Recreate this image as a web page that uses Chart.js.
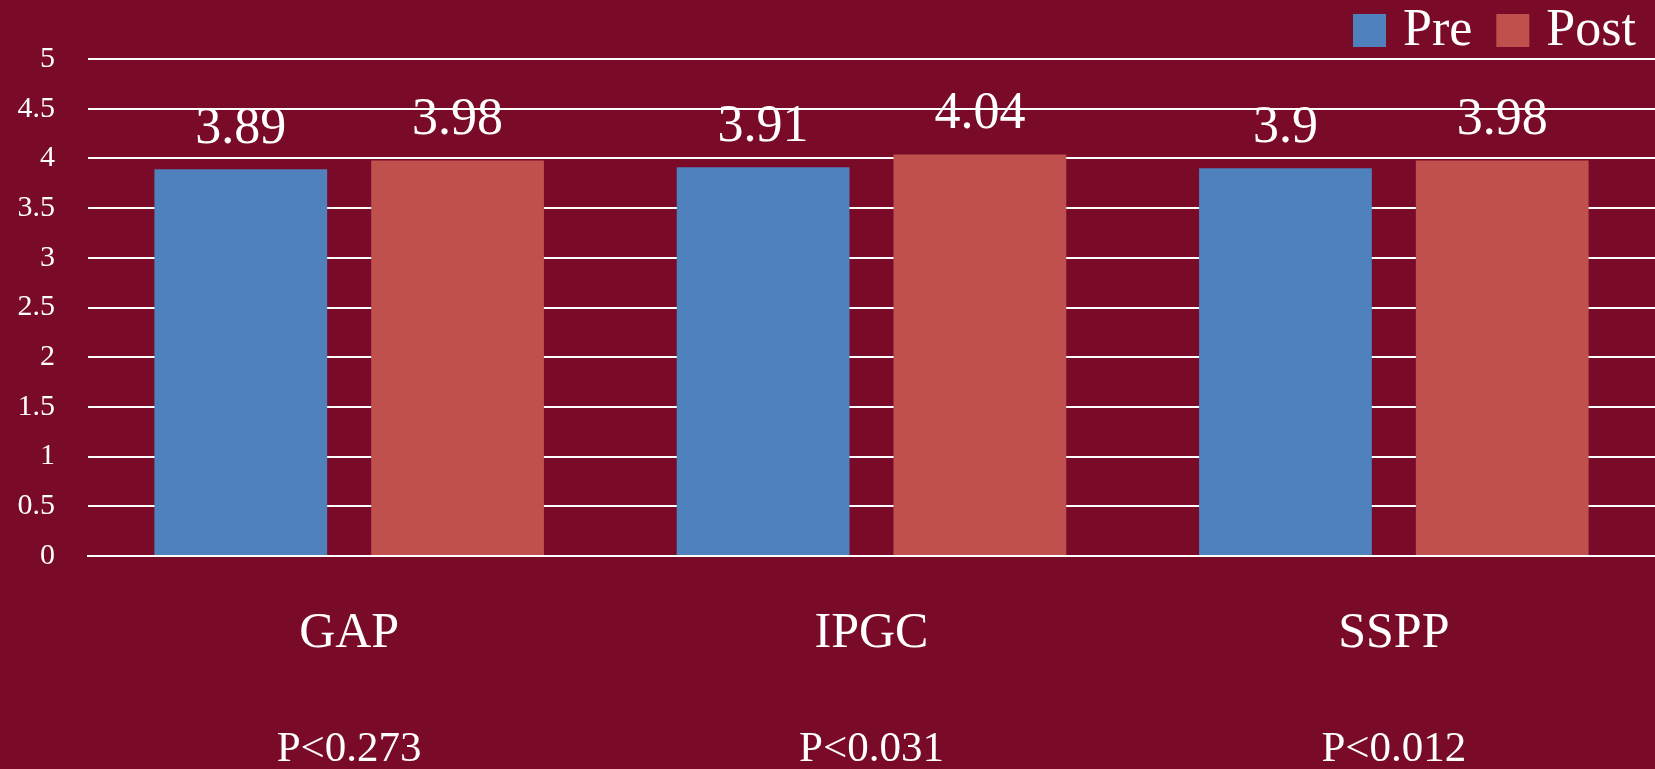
<!DOCTYPE html>
<html>
<head>
<meta charset="utf-8">
<script src="https://cdn.jsdelivr.net/npm/chart.js@4/dist/chart.umd.min.js"></script>
<style>
  html, body { margin: 0; padding: 0; background: #7a0b28; overflow: hidden; }
  #wrap { width: 1655px; height: 769px; }
</style>
</head>
<body>
<div id="wrap"><canvas id="prepost-chart" width="1655" height="769"></canvas></div>
<script>
// Chart data
const categories = ['GAP', 'IPGC', 'SSPP'];
const preValues = [3.89, 3.91, 3.9];
const postValues = [3.98, 4.04, 3.98];
const pValues = ['P<0.273', 'P<0.031', 'P<0.012'];
const yTicks = [0, 0.5, 1, 1.5, 2, 2.5, 3, 3.5, 4, 4.5, 5];

const FONT = '"Liberation Serif", "DejaVu Serif", serif';
const BG = '#7a0b28';

// paint the maroon background behind everything
const bgPlugin = {
    id: 'bg',
    beforeDraw(chart) {
        const c = chart.ctx;
        c.save();
        c.fillStyle = BG;
        c.fillRect(0, 0, chart.width, chart.height);
        c.restore();
    }
};

// value labels above each bar
const valueLabels = {
    id: 'valueLabels',
    afterDatasetsDraw(chart) {
        const c = chart.ctx;
        c.save();
        c.fillStyle = '#ffffff';
        c.font = '52px ' + FONT;
        c.textAlign = 'center';
        c.textBaseline = 'alphabetic';
        chart.data.datasets.forEach((ds, i) => {
            chart.getDatasetMeta(i).data.forEach((bar, j) => {
                c.fillText(String(ds.data[j]), bar.x, bar.y - 26);
            });
        });
        c.restore();
    }
};

// p-values under the category names
const pValueLabels = {
    id: 'pValueLabels',
    afterDraw(chart) {
        const c = chart.ctx;
        const x = chart.scales.x;
        c.save();
        c.fillStyle = '#ffffff';
        c.font = '43px ' + FONT;
        c.textAlign = 'center';
        c.textBaseline = 'alphabetic';
        pValues.forEach((p, i) => {
            c.fillText(p, x.getPixelForValue(i), 761);
        });
        c.restore();
    }
};

// legend in the top right corner
const topLegend = {
    id: 'topLegend',
    afterDraw(chart) {
        const c = chart.ctx;
        c.save();
        c.font = '52px ' + FONT;
        c.textBaseline = 'alphabetic';
        let x = 1353;
        chart.data.datasets.forEach(ds => {
            c.fillStyle = ds.backgroundColor;
            c.fillRect(x, 14, 33, 33);
            c.fillStyle = '#ffffff';
            c.fillText(ds.label, x + 50, 45);
            x += 50 + c.measureText(ds.label).width + 24;
        });
        c.restore();
    }
};

let ctx = document.getElementById('prepost-chart').getContext('2d');
let prePostChart = new Chart(ctx, {
    type: 'bar',
    data: {
        labels: categories,
        datasets: [
            { label: 'Pre', data: preValues, backgroundColor: '#4f81bd' },
            { label: 'Post', data: postValues, backgroundColor: '#c0504d' }
        ]
    },
    options: {
        responsive: false,
        animation: false,
        devicePixelRatio: 1,
        layout: { padding: { top: 59, right: 0, left: 0, bottom: 0 } },
        datasets: {
            bar: { barPercentage: 0.797, categoryPercentage: 0.83 }
        },
        plugins: {
            legend: { display: false },
            tooltip: { enabled: false }
        },
        scales: {
            x: {
                grid: { display: false },
                border: { display: true, color: '#ffffff', width: 2 },
                ticks: {
                    color: '#ffffff',
                    font: { family: FONT, size: 50 },
                    padding: 40,
                    maxRotation: 0
                },
                afterFit(scale) { scale.height = 213; }
            },
            y: {
                min: 0,
                max: 5,
                afterBuildTicks(scale) {
                    scale.ticks = yTicks.map(v => ({ value: v }));
                },
                grid: { color: '#ffffff', lineWidth: 2, drawTicks: false },
                border: { display: false },
                ticks: {
                    color: '#ffffff',
                    font: { family: FONT, size: 30 },
                    padding: 33,
                    callback: value => String(value)
                },
                afterFit(scale) { scale.width = 88; }
            }
        }
    },
    plugins: [bgPlugin, valueLabels, pValueLabels, topLegend]
});
</script>
</body>
</html>
